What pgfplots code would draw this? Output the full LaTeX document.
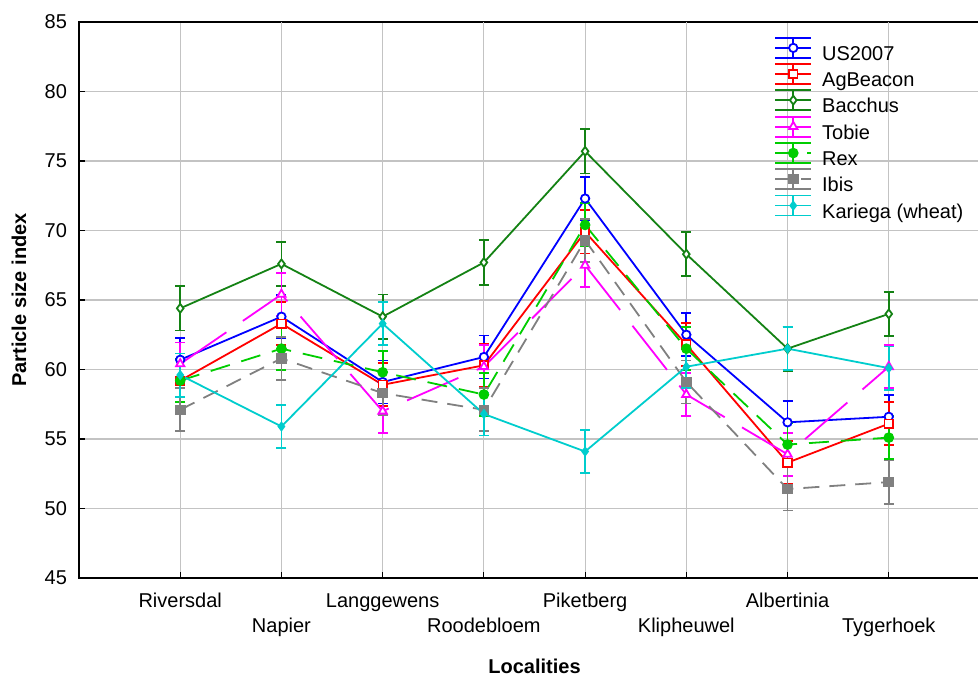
\documentclass[border=0pt]{standalone}
\usepackage{fontspec}
\setmainfont{Liberation Sans}
\usepackage{pgfplots}
\pgfplotsset{compat=1.18}
\definecolor{cblue}{RGB}{0,0,255}
\definecolor{cred}{RGB}{255,0,0}
\definecolor{cdgreen}{RGB}{20,130,20}
\definecolor{cmag}{RGB}{255,0,255}
\definecolor{cgreen}{RGB}{0,205,0}
\definecolor{cgray}{RGB}{128,128,128}
\definecolor{ccyan}{RGB}{0,205,205}
\definecolor{gridgray}{RGB}{195,195,195}
\pgfplotsset{
  eb/.style={error bars/.cd, y dir=both, y explicit, error mark=|,
    error bar style={solid, line width=0.9pt},
    error mark options={solid, mark size=2.5pt, line width=0.9pt}},
}
\begin{document}
\begin{tikzpicture}
\begin{axis}[
  scale only axis, width=455.5pt, height=278pt,
  xmin=-1, xmax=8, ymin=45, ymax=85,
  ytick={45,50,...,85},
  xtick={0,2,4,6},
  xticklabels={Riversdal,Langgewens,Piketberg,Albertinia},
  extra x ticks={1,3,5,7},
  extra x tick labels={Napier,Roodebloem,Klipheuwel,Tygerhoek},
  extra x tick style={xticklabel style={yshift=-12.5pt}},
  xmajorgrids, ymajorgrids,
  grid style={color=gridgray, line width=0.6pt},
  tick align=inside, tick pos=left, major tick length=3pt,
  axis line style={line width=0.8pt},
  tick style={black, line width=0.6pt},
  /pgf/number format/assume math mode=true,
  ticklabel style={font=\fontsize{10}{12}\selectfont},
  xticklabel style={anchor=base, yshift=-14.65pt},
  yticklabel style={xshift=-2.5pt},
  xlabel={\bfseries Localities},
  ylabel={\bfseries Particle size index},
  every axis x label/.style={at={(axis description cs:0.5,-0.159)}, anchor=center, font=\fontsize{10}{12}\selectfont},
  every axis y label/.style={at={(axis description cs:-0.0659,0.5)}, rotate=90, anchor=center, font=\fontsize{10}{12}\selectfont},
  legend cell align=left,
  legend style={at={(rel axis cs:0.7633,1)}, anchor=north west, yshift=-7.5pt,
    draw=none, fill=none, inner sep=0pt, outer sep=0pt,
    row sep=-0.1pt, column sep=5pt, nodes={inner sep=0pt},
    font=\fontsize{10}{12}\selectfont},
  legend image code/.code={
    \begin{scope}[yshift=3.5pt]
    \draw[#1,solid,line width=0.9pt] (0pt,5pt) -- (18pt,5pt);
    \draw[#1,solid,line width=0.9pt] (0pt,-5pt) -- (18pt,-5pt);
    \draw[#1,solid,line width=0.9pt] (9pt,-5pt) -- (9pt,5pt);
    \draw[mark repeat=2,mark phase=2,#1] plot coordinates {(0pt,0pt)(9pt,0pt)(18pt,0pt)};
    \end{scope}
  },
]
% US2007
\addplot[cblue, line width=0.9pt, mark=*, mark size=2.1pt, mark options={solid, fill=white}, eb]
coordinates {(0,60.7)+-(0,1.55) (1,63.8)+-(0,1.55) (2,59.1)+-(0,1.55) (3,60.9)+-(0,1.55)
 (4,72.3)+-(0,1.55) (5,62.5)+-(0,1.55) (6,56.2)+-(0,1.55) (7,56.6)+-(0,1.55)};
\addlegendentry{US2007}
% AgBeacon
\addplot[cred, line width=0.9pt, mark=square*, mark size=2.1pt, mark options={solid, fill=white}, eb]
coordinates {(0,59.2)+-(0,1.55) (1,63.3)+-(0,1.55) (2,58.9)+-(0,1.55) (3,60.3)+-(0,1.55)
 (4,69.9)+-(0,1.55) (5,61.8)+-(0,1.55) (6,53.3)+-(0,1.55) (7,56.1)+-(0,1.55)};
\addlegendentry{AgBeacon}
% Bacchus
\addplot[cdgreen, line width=0.9pt, mark=diamond*, mark size=2.2pt, mark options={solid, fill=white}, eb]
coordinates {(0,64.4)+-(0,1.6) (1,67.6)+-(0,1.6) (2,63.8)+-(0,1.6) (3,67.7)+-(0,1.6)
 (4,75.7)+-(0,1.6) (5,68.3)+-(0,1.6) (6,61.5)+-(0,1.6) (7,64.0)+-(0,1.6)};
\addlegendentry{Bacchus}
% Tobie
\addplot[cmag, line width=0.9pt, dash pattern=on 28pt off 10pt, mark=triangle*, mark size=2.4pt, mark options={solid, fill=white}, eb]
coordinates {(0,60.4)+-(0,1.55) (1,65.4)+-(0,1.55) (2,57.0)+-(0,1.55) (3,60.2)+-(0,1.55)
 (4,67.5)+-(0,1.55) (5,58.2)+-(0,1.55) (6,53.9)+-(0,1.55) (7,60.2)+-(0,1.55)};
\addlegendentry{Tobie}
% Rex
\addplot[cgreen, line width=0.9pt, dash pattern=on 10pt off 6pt, mark=*, mark size=2.2pt, mark options={solid}, eb]
coordinates {(0,59.2)+-(0,1.55) (1,61.5)+-(0,1.55) (2,59.8)+-(0,1.55) (3,58.2)+-(0,1.55)
 (4,70.4)+-(0,1.55) (5,61.5)+-(0,1.55) (6,54.6)+-(0,1.55) (7,55.1)+-(0,1.55)};
\addlegendentry{Rex}
% Ibis
\addplot[cgray, line width=0.9pt, dash pattern=on 8pt off 5pt, mark=square*, mark size=2.2pt, mark options={solid}, eb]
coordinates {(0,57.1)+-(0,1.55) (1,60.8)+-(0,1.55) (2,58.3)+-(0,1.55) (3,57.1)+-(0,1.55)
 (4,69.3)+-(0,1.55) (5,59.1)+-(0,1.55) (6,51.4)+-(0,1.55) (7,51.9)+-(0,1.55)};
\addlegendentry{Ibis}
% Kariega
\addplot[ccyan, line width=0.9pt, mark=diamond*, mark size=1.9pt, mark options={solid}, eb]
coordinates {(0,59.6)+-(0,1.55) (1,55.9)+-(0,1.55) (2,63.3)+-(0,1.55) (3,56.8)+-(0,1.55)
 (4,54.1)+-(0,1.55) (5,60.2)+-(0,1.55) (6,61.5)+-(0,1.55) (7,60.1)+-(0,1.55)};
\addlegendentry{Kariega (wheat)}
\end{axis}
\pgfresetboundingbox
\useasboundingbox (-39.5pt,-48.5pt) rectangle (449.5pt,289pt);
\end{tikzpicture}
\end{document}
